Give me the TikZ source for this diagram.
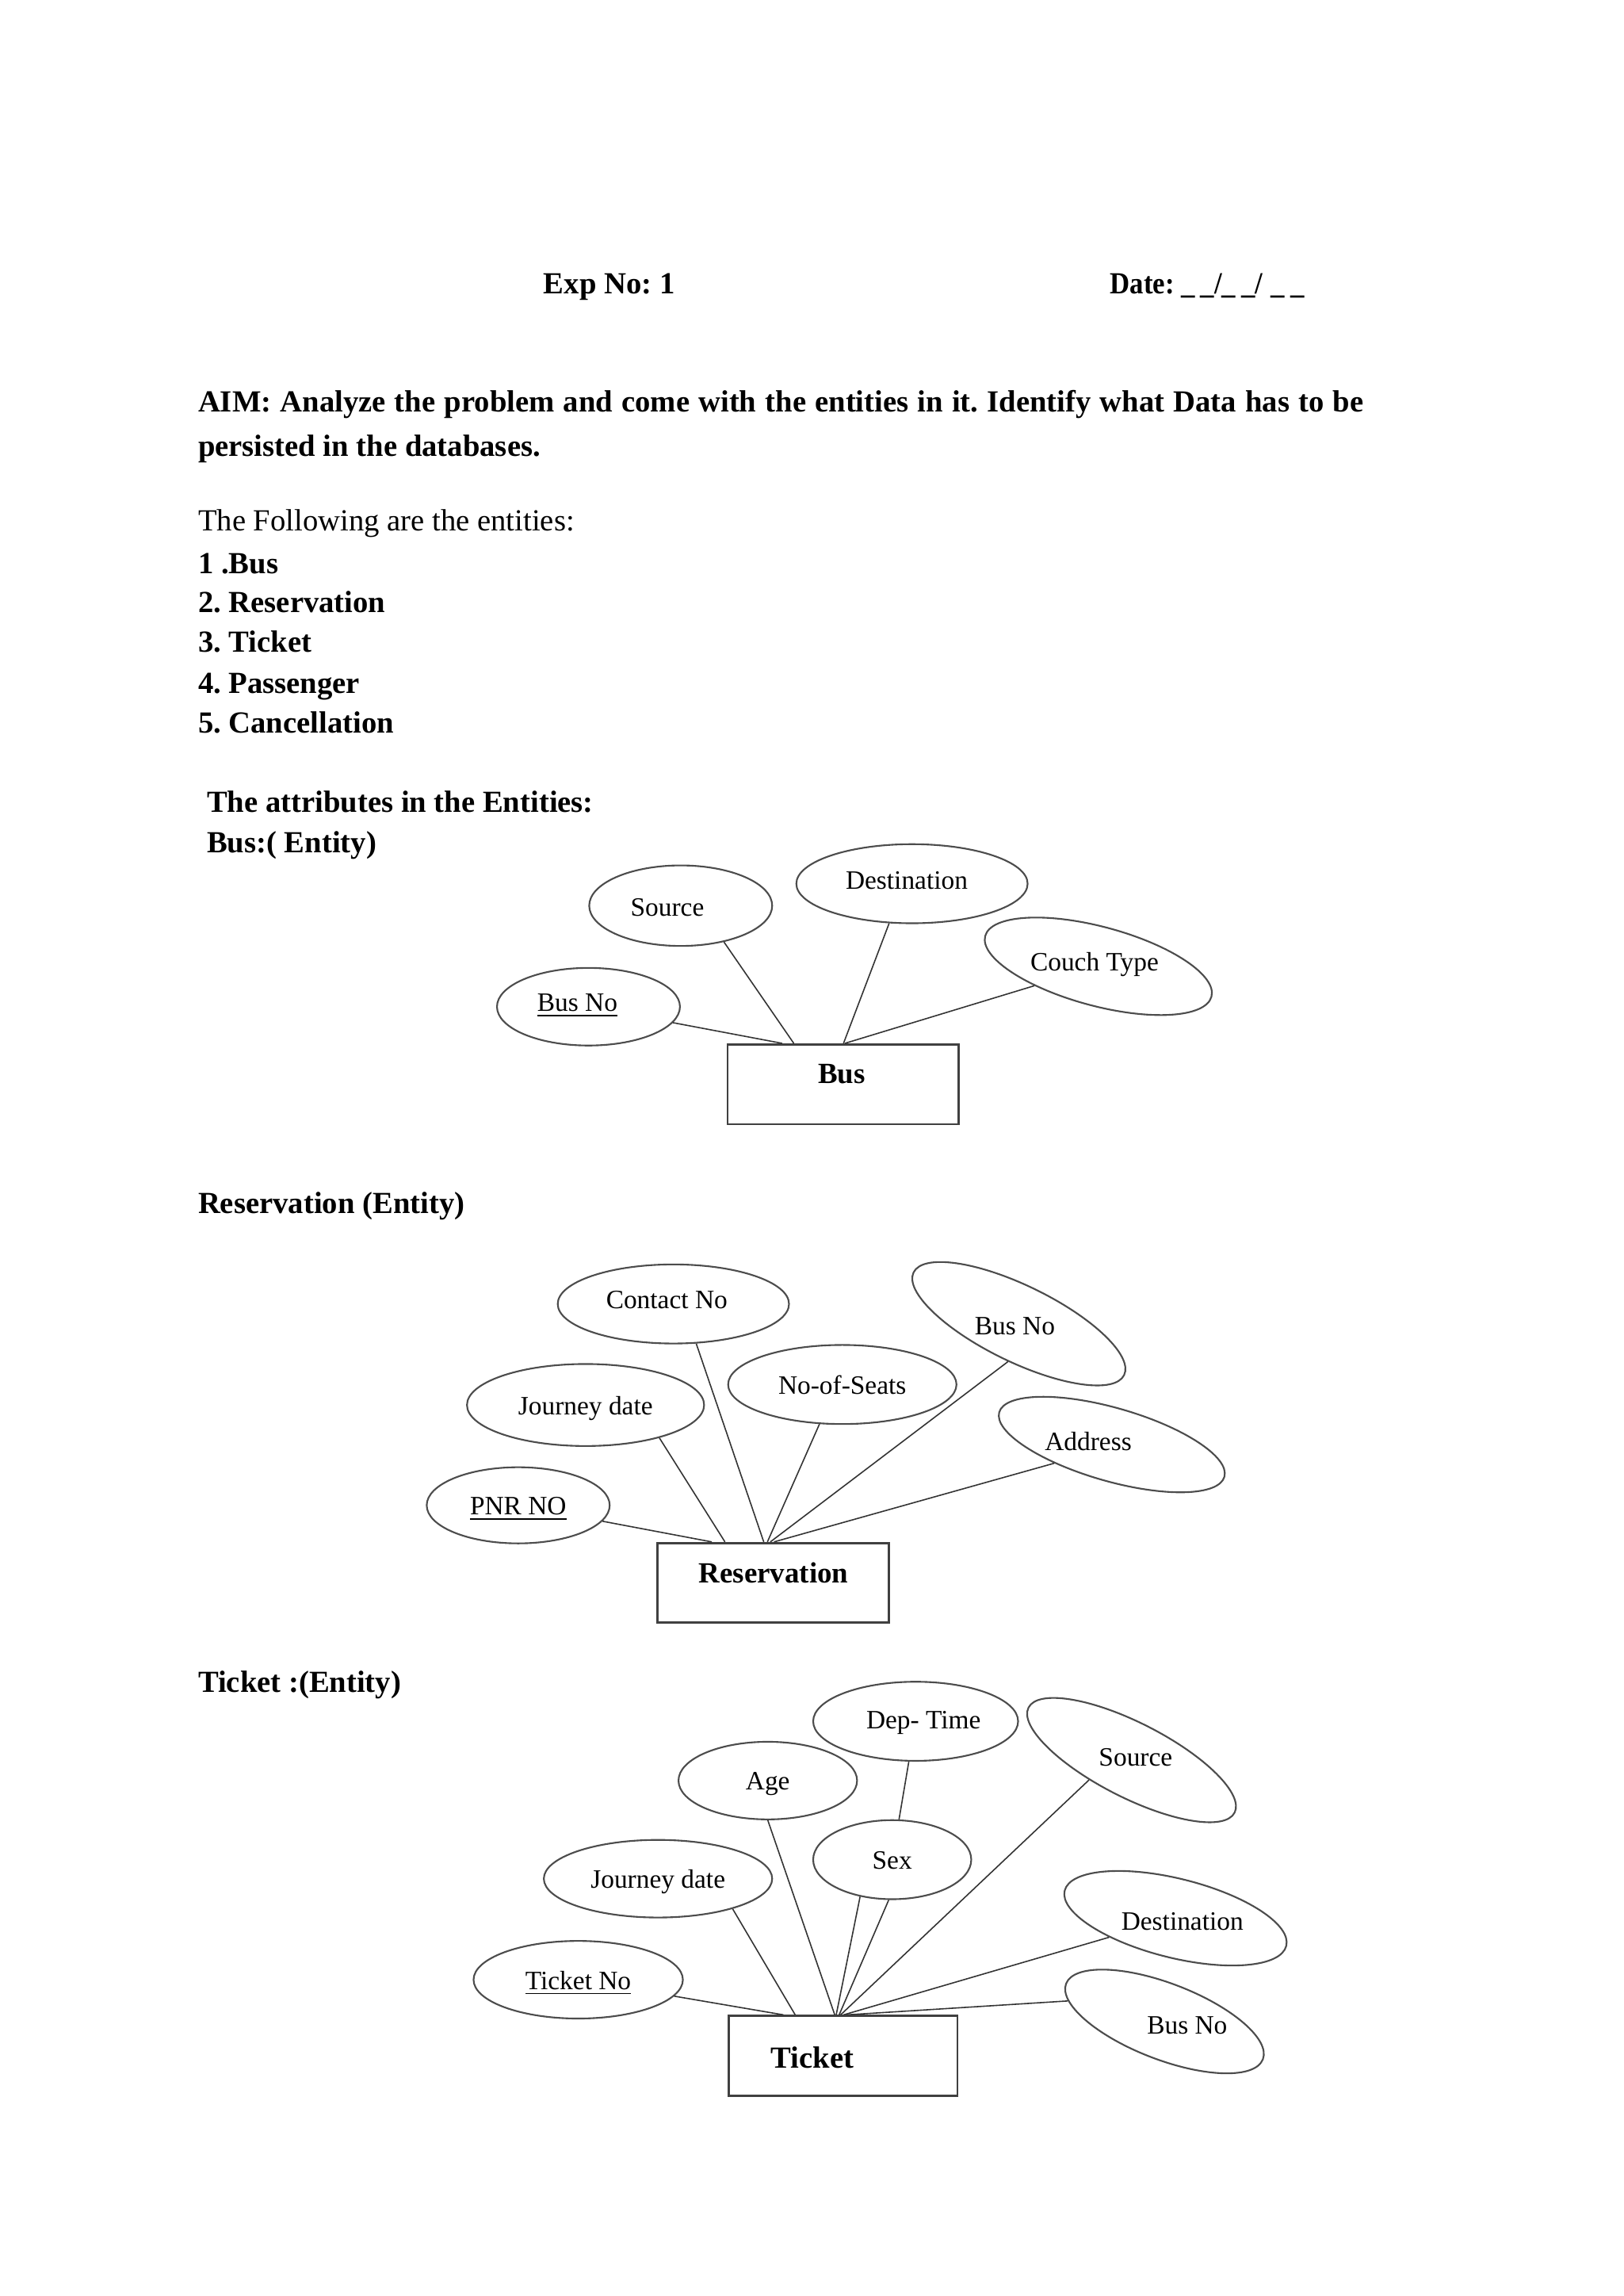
\documentclass[tikz,border=0pt]{standalone}
\usepackage{fontspec}
\setmainfont{Liberation Serif}
\usetikzlibrary{shapes.geometric}
\frenchspacing
\newcommand{\unitpx}{0.018467cm}
\tikzset{
  attr/.style={ellipse,draw=black!70,line width=0.6pt,inner sep=0pt,
    font=\fontsize{9.5}{11}\selectfont,text height=0.68em,text depth=0pt},
  attrtxt/.style={inner sep=0pt,font=\fontsize{9.5}{11}\selectfont,
    text height=0.68em,text depth=0pt},
  ent/.style={draw=black!75,line width=0.8pt,inner sep=0pt,
    minimum width=158*\unitpx,minimum height=54.5*\unitpx},
  enttxt/.style={inner sep=0pt,font=\fontsize{10.5}{12}\selectfont\bfseries,
    text height=0.68em,text depth=0pt},
  link/.style={draw=black!80,line width=0.45pt},
  para/.style={anchor=west,inner sep=0pt,font=\fontsize{11}{13}\selectfont,
    text height=0.68em,text depth=0pt},
  parab/.style={para,font=\fontsize{11}{13}\selectfont\bfseries}
}
\begin{document}
\begin{tikzpicture}[x=0.018467cm,y=-0.018467cm]
  \fill[white] (0,0) rectangle (1109,1568);
  \useasboundingbox (0,0) rectangle (1109,1568);

  % header and text
  \node[parab] (exp) at (371,194) {Exp No: 1};
  \node[parab] (date) at (758,194)
    {\scalebox{0.9}[1]{Date: \_\hspace{0.2em}\_/\_\hspace{0.2em}\_/\hspace{0.3em}\_\hspace{0.2em}\_}};
  \node[parab] (aim1) at (135,275)
    {\makebox[14.7cm][s]{AIM: Analyze the problem and come with the entities in it. Identify what Data has to be}};
  \node[parab] (aim2) at (135,305) {persisted in the databases.};
  \node[para] (intro) at (135,356) {The Following are the entities:};
  \foreach \i/\y/\t in {1/385/1 .Bus,2/412/2. Reservation,3/439/3. Ticket,
                        4/467/4. Passenger,5/494/5. Cancellation}
    \node[parab] (ent\i) at (135,\y) {\t};
  \node[parab] (attrs) at (141,548) {The attributes in the Entities:};
  \node[parab] (hbus) at (141,576) {Bus:( Entity)};
  \node[parab] (hres) at (135,822) {Reservation (Entity)};
  \node[parab] (htkt) at (135,1149) {Ticket :(Entity)};

  % Bus
  \node[ent] (bus) at (576,740.5) {};
  \node[enttxt] (bus-t) at (575,733.5) {Bus};
  \node[attr,minimum width=125*\unitpx,minimum height=53*\unitpx]
    (bno) at (402,687.5) {};
  \node[attrtxt] (bno-t) at (394.4,684.2) {\underline{Bus No}};
  \node[attr,minimum width=125*\unitpx,minimum height=55*\unitpx]
    (bsrc) at (465,618.5) {};
  \node[attrtxt] (bsrc-t) at (455.9,619) {Source};
  \node[attr,minimum width=158*\unitpx,minimum height=54*\unitpx]
    (bdst) at (623,603.5) {};
  \node[attrtxt] (bdst-t) at (619.4,601) {Destination};
  \node[attr,rotate=-15,minimum width=160*\unitpx,minimum height=54*\unitpx]
    (bct) at (750.3,659.9) {};
  \node[attrtxt] (bct-t) at (747.7,656.3) {Couch Type};
  \draw[link] (bno) -- ([xshift=38*\unitpx]bus.north west);
  \draw[link] (bsrc.-40) -- ([xshift=46*\unitpx]bus.north west);
  \draw[link] (bdst.-120) -- ([xshift=80*\unitpx]bus.north west);
  \draw[link] (bct) -- ([xshift=81*\unitpx]bus.north west);

  % Reservation
  \node[ent] (res) at (528,1081) {};
  \node[enttxt] (res-t) at (528.4,1074.4) {Reservation};
  \node[attr,minimum width=158*\unitpx,minimum height=54*\unitpx]
    (rcn) at (460,890.5) {};
  \node[attrtxt] (rcn-t) at (455.5,887) {Contact No};
  \node[attr,rotate=-26,minimum width=160*\unitpx,minimum height=52*\unitpx]
    (rbno) at (696,904) {};
  \node[attrtxt] (rbno-t) at (693.3,905) {Bus No};
  \node[attr,minimum width=156*\unitpx,minimum height=54*\unitpx]
    (rns) at (575.4,945.5) {No-of-Seats};
  \node[attr,minimum width=162*\unitpx,minimum height=56*\unitpx]
    (rjd) at (400,959.5) {Journey date};
  \node[attr,rotate=-16,minimum width=160*\unitpx,minimum height=50*\unitpx]
    (radd) at (759.5,986.5) {};
  \node[attrtxt] (radd-t) at (743.4,984) {Address};
  \node[attr,minimum width=125*\unitpx,minimum height=52*\unitpx]
    (rpnr) at (354,1028) {\underline{PNR NO}};
  \draw[link] (rpnr) -- ([xshift=38*\unitpx]res.north west);
  \draw[link] (rjd.-24) -- ([xshift=47*\unitpx]res.north west);
  \draw[link] (rcn.-60) -- ([xshift=73.5*\unitpx]res.north west);
  \draw[link] (rns.-120) -- ([xshift=76*\unitpx]res.north west);
  \draw[link] (rbno.-80) -- ([xshift=78*\unitpx]res.north west);
  \draw[link] (radd.-146) -- ([xshift=80.5*\unitpx]res.north west);

  % Ticket
  \node[ent,minimum width=156*\unitpx] (tkt) at (576,1404) {};
  \node[enttxt,font=\fontsize{11}{13}\selectfont\bfseries] (tkt-t) at (555,1406) {Ticket};
  \node[attr,minimum width=140*\unitpx,minimum height=54*\unitpx]
    (tdep) at (625.5,1175.5) {};
  \node[attrtxt] (tdep-t) at (630.9,1174) {Dep- Time};
  \node[attr,rotate=-27,minimum width=158*\unitpx,minimum height=51*\unitpx]
    (tsrc) at (773,1202) {};
  \node[attrtxt] (tsrc-t) at (775.8,1199.5) {Source};
  \node[attr,minimum width=122*\unitpx,minimum height=53*\unitpx]
    (tage) at (524.5,1216) {Age};
  \node[attr,minimum width=108*\unitpx,minimum height=54*\unitpx]
    (tsex) at (609.5,1270) {Sex};
  \node[attr,minimum width=156*\unitpx,minimum height=53*\unitpx]
    (tjd) at (449.5,1283) {Journey date};
  \node[attr,rotate=-14,minimum width=156*\unitpx,minimum height=54*\unitpx]
    (tdst) at (803,1310) {};
  \node[attrtxt] (tdst-t) at (807.7,1311.4) {Destination};
  \node[attr,minimum width=143*\unitpx,minimum height=53*\unitpx]
    (ttn) at (395,1352) {\underline{Ticket No}};
  \node[attr,rotate=-21,minimum width=144*\unitpx,minimum height=52*\unitpx]
    (tbno) at (795.5,1380.5) {};
  \node[attrtxt] (tbno-t) at (811,1382.5) {Bus No};
  \draw[link] (ttn) -- ([xshift=38*\unitpx]tkt.north west);
  \draw[link] (tjd.-22) -- ([xshift=46*\unitpx]tkt.north west);
  \draw[link] (tage.south) -- ([xshift=73*\unitpx]tkt.north west);
  \draw[link] (tdep) -- (tsex);
  \draw[link] (tsex.-131) -- ([xshift=74*\unitpx]tkt.north west);
  \draw[link] (tsex.-95) -- ([xshift=76*\unitpx]tkt.north west);
  \draw[link] (tsrc.-128) -- ([xshift=77*\unitpx]tkt.north west);
  \draw[link] (tdst.-150) -- ([xshift=79*\unitpx]tkt.north west);
  \draw[link] (tbno.-171) -- ([xshift=81*\unitpx]tkt.north west);
\end{tikzpicture}
\end{document}
